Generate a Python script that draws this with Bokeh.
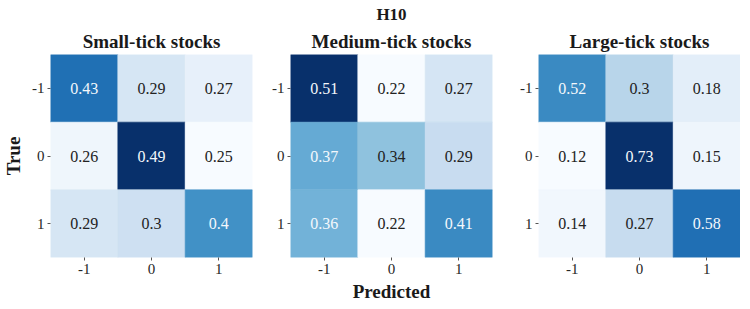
from bokeh.plotting import figure
from bokeh.layouts import row
from bokeh.models import Title, FactorRange, ColumnDataSource
from bokeh.transform import linear_cmap
from bokeh.palettes import Blues256
from bokeh.embed import file_html
from bokeh.resources import INLINE
from bokeh.core.properties import value

# ---- data ----
predicted_labels = ["-1", "0", "1"]
true_labels = ["-1", "0", "1"]
small_tick = [[0.43, 0.29, 0.27], [0.26, 0.49, 0.25], [0.29, 0.30, 0.40]]
medium_tick = [[0.51, 0.22, 0.27], [0.37, 0.34, 0.29], [0.36, 0.22, 0.41]]
large_tick = [[0.52, 0.30, 0.18], [0.12, 0.73, 0.15], [0.14, 0.27, 0.58]]
panel_titles = ["Small-tick stocks", "Medium-tick stocks", "Large-tick stocks"]
suptitle = "H10"
xlabel = "Predicted"
ylabel = "True"

SERIF = "Liberation Serif"


def hex_rgb(h):
    h = h.lstrip("#")
    return [int(h[k:k + 2], 16) / 255 for k in (0, 2, 4)]


def lum(h):
    rgb = [c / 12.92 if c <= 0.03928 else ((c + 0.055) / 1.055) ** 2.4 for c in hex_rgb(h)]
    return 0.2126 * rgb[0] + 0.7152 * rgb[1] + 0.0722 * rgb[2]


pal = list(Blues256)
if lum(pal[0]) < lum(pal[-1]):
    pal = pal[::-1]  # light -> dark


def fmt(v):
    return ("%.2f" % v).rstrip("0")


FW, FH = 202, 203
TOP, BOTTOM = 50, 38


def panel(mat, title, left, right, first=False, middle=False):
    flat = [v for r in mat for v in r]
    lo, hi = min(flat), max(flat)
    xs, ys, vs, ts, tcs = [], [], [], [], []
    for i, tl in enumerate(true_labels):
        for j, pl in enumerate(predicted_labels):
            v = mat[i][j]
            xs.append(pl)
            ys.append(tl)
            vs.append(v)
            ts.append(fmt(v))
            idx = min(255, int((v - lo) / (hi - lo) * 256))
            tcs.append("#222222" if lum(pal[idx]) > 0.408 else "#f4f8fc")
    src = ColumnDataSource(dict(x=xs, y=ys, v=vs, t=ts, tc=tcs))

    p = figure(frame_width=FW, frame_height=FH, output_backend="svg", toolbar_location=None,
               x_range=FactorRange(*predicted_labels),
               y_range=FactorRange(*true_labels[::-1]),
               min_border_left=left, min_border_right=right,
               min_border_top=TOP, min_border_bottom=BOTTOM)
    cmap = linear_cmap("v", pal, lo, hi)
    p.rect(x="x", y="y", width=1, height=1, source=src, fill_color=cmap,
           line_color=cmap, line_width=0.6)
    p.text(x="x", y="y", text="t", text_color="tc", source=src,
           text_align="center", text_baseline="middle",
           text_font=value(SERIF), text_font_size="16px")

    p.title.align = "center"
    p.title.text_font = SERIF
    p.title.text_font_style = "bold"
    p.title.text_color = "#1a1a1a"
    if middle:
        p.title.text = suptitle
        p.title.text_font_size = "17px"
        p.title.standoff = 4
        p.add_layout(Title(text=title, align="center", text_font=SERIF,
                           text_font_style="bold", text_font_size="19px",
                           text_color="#1a1a1a", standoff=6), "above")
        p.xaxis.axis_label = xlabel
    else:
        p.title.text = title
        p.title.text_font_size = "19px"
        p.title.standoff = 6
    if first:
        p.yaxis.axis_label = ylabel

    for ax in (p.xaxis[0], p.yaxis[0]):
        ax.axis_line_color = None
        ax.major_tick_in = 0
        ax.major_tick_out = 3
        ax.major_tick_line_color = "#555555"
        ax.minor_tick_line_color = None
        ax.major_label_text_font = SERIF
        ax.major_label_text_font_size = "15px"
        ax.major_label_text_color = "#262626"
        ax.axis_label_text_font = SERIF
        ax.axis_label_text_font_style = "bold"
        ax.axis_label_text_font_size = "19px"
        ax.axis_label_text_color = "#1a1a1a"
        ax.major_label_standoff = 3
    p.xaxis.axis_label_standoff = 4
    p.yaxis.axis_label_standoff = 5
    p.yaxis.major_label_orientation = "horizontal"

    p.grid.visible = False
    p.outline_line_color = None
    p.background_fill_color = "white"
    p.border_fill_color = "white"
    return p


p1 = panel(small_tick, panel_titles[0], 44, 5, first=True)
p2 = panel(medium_tick, panel_titles[1], 33, 5, middle=True)
p3 = panel(large_tick, panel_titles[2], 41, 0)

layout = row(p1, p2, p3, spacing=0)
open("out.html", "w").write(file_html(layout, INLINE))
